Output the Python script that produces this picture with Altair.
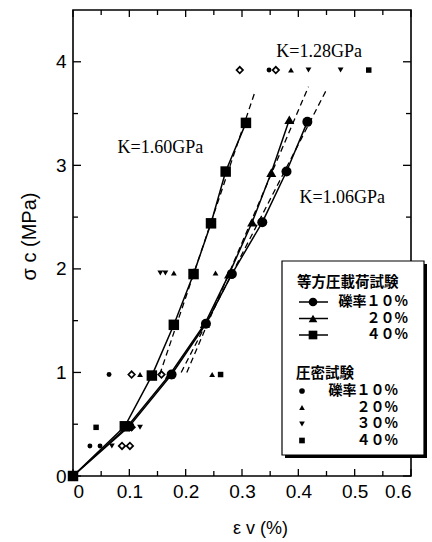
import altair as alt
import pandas as pd

# ---------------- data ----------------
# Isotropic loading tests (solid lines with markers)
iso10_eps = [0, 0.100, 0.175, 0.236, 0.282, 0.336, 0.379, 0.416]
iso10_sig = [0, 0.48, 0.98, 1.47, 1.95, 2.45, 2.94, 3.42]
iso20_eps = [0, 0.097, 0.172, 0.234, 0.277, 0.318, 0.352, 0.384]
iso20_sig = [0, 0.48, 0.98, 1.47, 1.95, 2.45, 2.93, 3.44]
iso40_eps = [0, 0.092, 0.140, 0.179, 0.214, 0.245, 0.271, 0.307]
iso40_sig = [0, 0.48, 0.97, 1.46, 1.95, 2.44, 2.94, 3.41]

# Linear fits (dashed lines)
fit10_eps = [0.192, 0.450]
fit10_sig = [1.00, 3.73]
fit20_eps = [0.202, 0.418]
fit20_sig = [1.00, 3.76]
fit40_eps = [0.154, 0.323]
fit40_sig = [0.98, 3.71]

# Consolidation tests (small markers)
con10_eps = [0.030, 0.048, 0.064, 0.348]
con10_sig = [0.29, 0.29, 0.98, 3.92]
con20_eps = [0.119, 0.247, 0.179, 0.253, 0.387]
con20_sig = [0.98, 0.98, 1.96, 1.96, 3.92]
con30_eps = [0.069, 0.119, 0.155, 0.164, 0.418, 0.475]
con30_sig = [0.29, 0.47, 1.96, 1.96, 3.92, 3.92]
con40_eps = [0.041, 0.262, 0.525]
con40_sig = [0.47, 0.98, 3.92]
# open diamonds (not in legend)
dia_eps = [0.087, 0.101, 0.104, 0.104, 0.157, 0.214, 0.296, 0.360]
dia_sig = [0.29, 0.29, 0.47, 0.98, 0.98, 1.96, 3.92, 3.92]

# Annotations
ann_text = ["K=1.60GPa", "K=1.28GPa", "K=1.06GPa"]
ann_eps = [0.155, 0.437, 0.478]
ann_sig = [3.17, 4.09, 2.68]

# Axis ticks
x_major = [0, 0.1, 0.2, 0.3, 0.4, 0.5, 0.6]
x_minor = [0.05, 0.15, 0.25, 0.35, 0.45, 0.55]
y_major = [0, 1, 2, 3, 4]
y_minor = [0.5, 1.5, 2.5, 3.5]

# Legend texts
leg1_title = "等方圧載荷試験"
leg1_labels = ["礫率１０%", "２０%", "４０%"]
leg1_shapes = ["circle", "triangle-up", "square"]
leg2_title = "圧密試験"
leg2_labels = ["礫率１０%", "２０%", "３０%", "４０%"]
leg2_shapes = ["circle", "triangle-up", "triangle-down", "square"]

# ---------------- chart ----------------
W, H = 338, 466
xs = alt.Scale(domain=[0, 0.6], nice=False, zero=False)
ys = alt.Scale(domain=[0, 4.5], nice=False, zero=False)
SANS = "Liberation Sans"
CJK = "Noto Sans CJK JP"

xaxis = alt.Axis(values=x_major, ticks=False, domain=False, grid=False,
                 labelExpr="datum.value == 0 ? '0' : format(datum.value, '.1f')",
                 labelFont=SANS, labelFontSize=19, labelColor="black", labelPadding=6,
                 title="ε v  (%)", titleFont=SANS, titleFontSize=18, titleFontWeight="normal",
                 titleColor="black", titlePadding=18, titleX=187, titleAlign="center")
yaxis = alt.Axis(values=y_major, ticks=False, domain=False, grid=False, format="d",
                 labelFont=SANS, labelFontSize=19, labelColor="black", labelPadding=7,
                 title="σ c  (MPa)", titleFont=SANS, titleFontSize=20, titleFontWeight="normal",
                 titleColor="black", titlePadding=16, titleY=182, titleAlign="right")


def X(field="eps"):
    return alt.X(f"{field}:Q", scale=xs, axis=xaxis)


def Y(field="sig"):
    return alt.Y(f"{field}:Q", scale=ys, axis=yaxis)


layers = []

iso_sets = [(iso10_eps, iso10_sig, "circle", 100), (iso20_eps, iso20_sig, "triangle-up", 100),
            (iso40_eps, iso40_sig, "square", 110)]
for e, s, shp, sz in iso_sets:
    df = pd.DataFrame({"eps": e, "sig": s})
    layers.append(alt.Chart(df).mark_line(color="black", strokeWidth=1.5)
                  .encode(x=X(), y=Y(), order="sig:Q"))
    layers.append(alt.Chart(df).mark_point(shape=shp, filled=True, color="black", opacity=1, size=sz)
                  .encode(x=X(), y=Y()))

for e, s in [(fit10_eps, fit10_sig), (fit20_eps, fit20_sig), (fit40_eps, fit40_sig)]:
    df = pd.DataFrame({"eps": e, "sig": s})
    layers.append(alt.Chart(df).mark_line(color="black", strokeWidth=1.3, strokeDash=[6, 4])
                  .encode(x=X(), y=Y()))

con_sets = [(con10_eps, con10_sig, "circle", 24), (con20_eps, con20_sig, "triangle-up", 34),
            (con30_eps, con30_sig, "triangle-down", 34), (con40_eps, con40_sig, "square", 30)]
for e, s, shp, sz in con_sets:
    df = pd.DataFrame({"eps": e, "sig": s})
    layers.append(alt.Chart(df).mark_point(shape=shp, filled=True, color="black", opacity=1, size=sz)
                  .encode(x=X(), y=Y()))

ddf = pd.DataFrame({"eps": dia_eps, "sig": dia_sig})
layers.append(alt.Chart(ddf).mark_point(shape="diamond", filled=False, color="black",
                                        strokeWidth=1.7, size=42, opacity=1)
              .encode(x=X(), y=Y()))

adf = pd.DataFrame({"eps": ann_eps, "sig": ann_sig, "t": ann_text})
layers.append(alt.Chart(adf).mark_text(font="Liberation Serif", fontSize=18, color="black")
              .encode(x=X(), y=Y(), text="t:N"))

# inward ticks on all four sides
for vals, ln in [(x_major, 7), (x_minor, 5)]:
    df = pd.DataFrame({"eps": vals})
    layers.append(alt.Chart(df).mark_rule(color="black", strokeWidth=1.3)
                  .encode(x=X(), y=alt.value(H), y2=alt.value(H - ln)))
    layers.append(alt.Chart(df).mark_rule(color="black", strokeWidth=1.3)
                  .encode(x=X(), y=alt.value(0), y2=alt.value(ln)))
for vals, ln in [(y_major, 8), (y_minor, 5)]:
    df = pd.DataFrame({"sig": vals})
    layers.append(alt.Chart(df).mark_rule(color="black", strokeWidth=1.3)
                  .encode(y=Y(), x=alt.value(0), x2=alt.value(ln)))
    layers.append(alt.Chart(df).mark_rule(color="black", strokeWidth=1.3)
                  .encode(y=Y(), x=alt.value(W), x2=alt.value(W - ln)))

# ---------------- custom legend box ----------------
one = pd.DataFrame({"a": [0]})
BX0, BY0, BX1, BY1 = 209, 251, 351, 445
layers.append(alt.Chart(one).mark_rect(color="black")
              .encode(x=alt.value(BX0 + 3), x2=alt.value(BX1 + 3), y=alt.value(BY0 + 3), y2=alt.value(BY1 + 3)))
layers.append(alt.Chart(one).mark_rect(fill="white", stroke="black", strokeWidth=1.2)
              .encode(x=alt.value(BX0), x2=alt.value(BX1), y=alt.value(BY0), y2=alt.value(BY1)))

FS = 14
layers.append(alt.Chart(one).mark_text(text=leg1_title, font=CJK, fontSize=FS + 0.5, fontWeight="bold",
                                       align="left", baseline="middle", color="black")
              .encode(x=alt.value(224), y=alt.value(273)))
for i, (lab, shp) in enumerate(zip(leg1_labels, leg1_shapes)):
    yy = 292 + i * 16.5
    layers.append(alt.Chart(one).mark_rule(color="black", strokeWidth=1.5)
                  .encode(x=alt.value(226), x2=alt.value(255), y=alt.value(yy)))
    layers.append(alt.Chart(one).mark_point(shape=shp, filled=True, color="black", opacity=1, size=75)
                  .encode(x=alt.value(240), y=alt.value(yy)))
    layers.append(alt.Chart(one).mark_text(text=lab, font=CJK, fontSize=FS, fontWeight="bold",
                                           align="right", baseline="middle", color="black")
                  .encode(x=alt.value(335), y=alt.value(yy)))

layers.append(alt.Chart(one).mark_text(text=leg2_title, font=CJK, fontSize=FS + 0.5, fontWeight="bold",
                                       align="left", baseline="middle", color="black")
              .encode(x=alt.value(223), y=alt.value(364)))
for i, (lab, shp) in enumerate(zip(leg2_labels, leg2_shapes)):
    yy = 381 + i * 16.5
    layers.append(alt.Chart(one).mark_point(shape=shp, filled=True, color="black", opacity=1, size=32)
                  .encode(x=alt.value(229), y=alt.value(yy)))
    layers.append(alt.Chart(one).mark_text(text=lab, font=CJK, fontSize=FS, fontWeight="bold",
                                           align="right", baseline="middle", color="black")
                  .encode(x=alt.value(325), y=alt.value(yy)))

chart = alt.layer(*layers).properties(
    width=W, height=H,
    autosize=alt.AutoSizeParams(type="none"),
    padding={"left": 73, "top": 10, "right": 21, "bottom": 66},
    background="white",
).configure_view(stroke="black", strokeWidth=1.6)

chart.save("out.html", embed_options={"renderer": "svg", "actions": False})
